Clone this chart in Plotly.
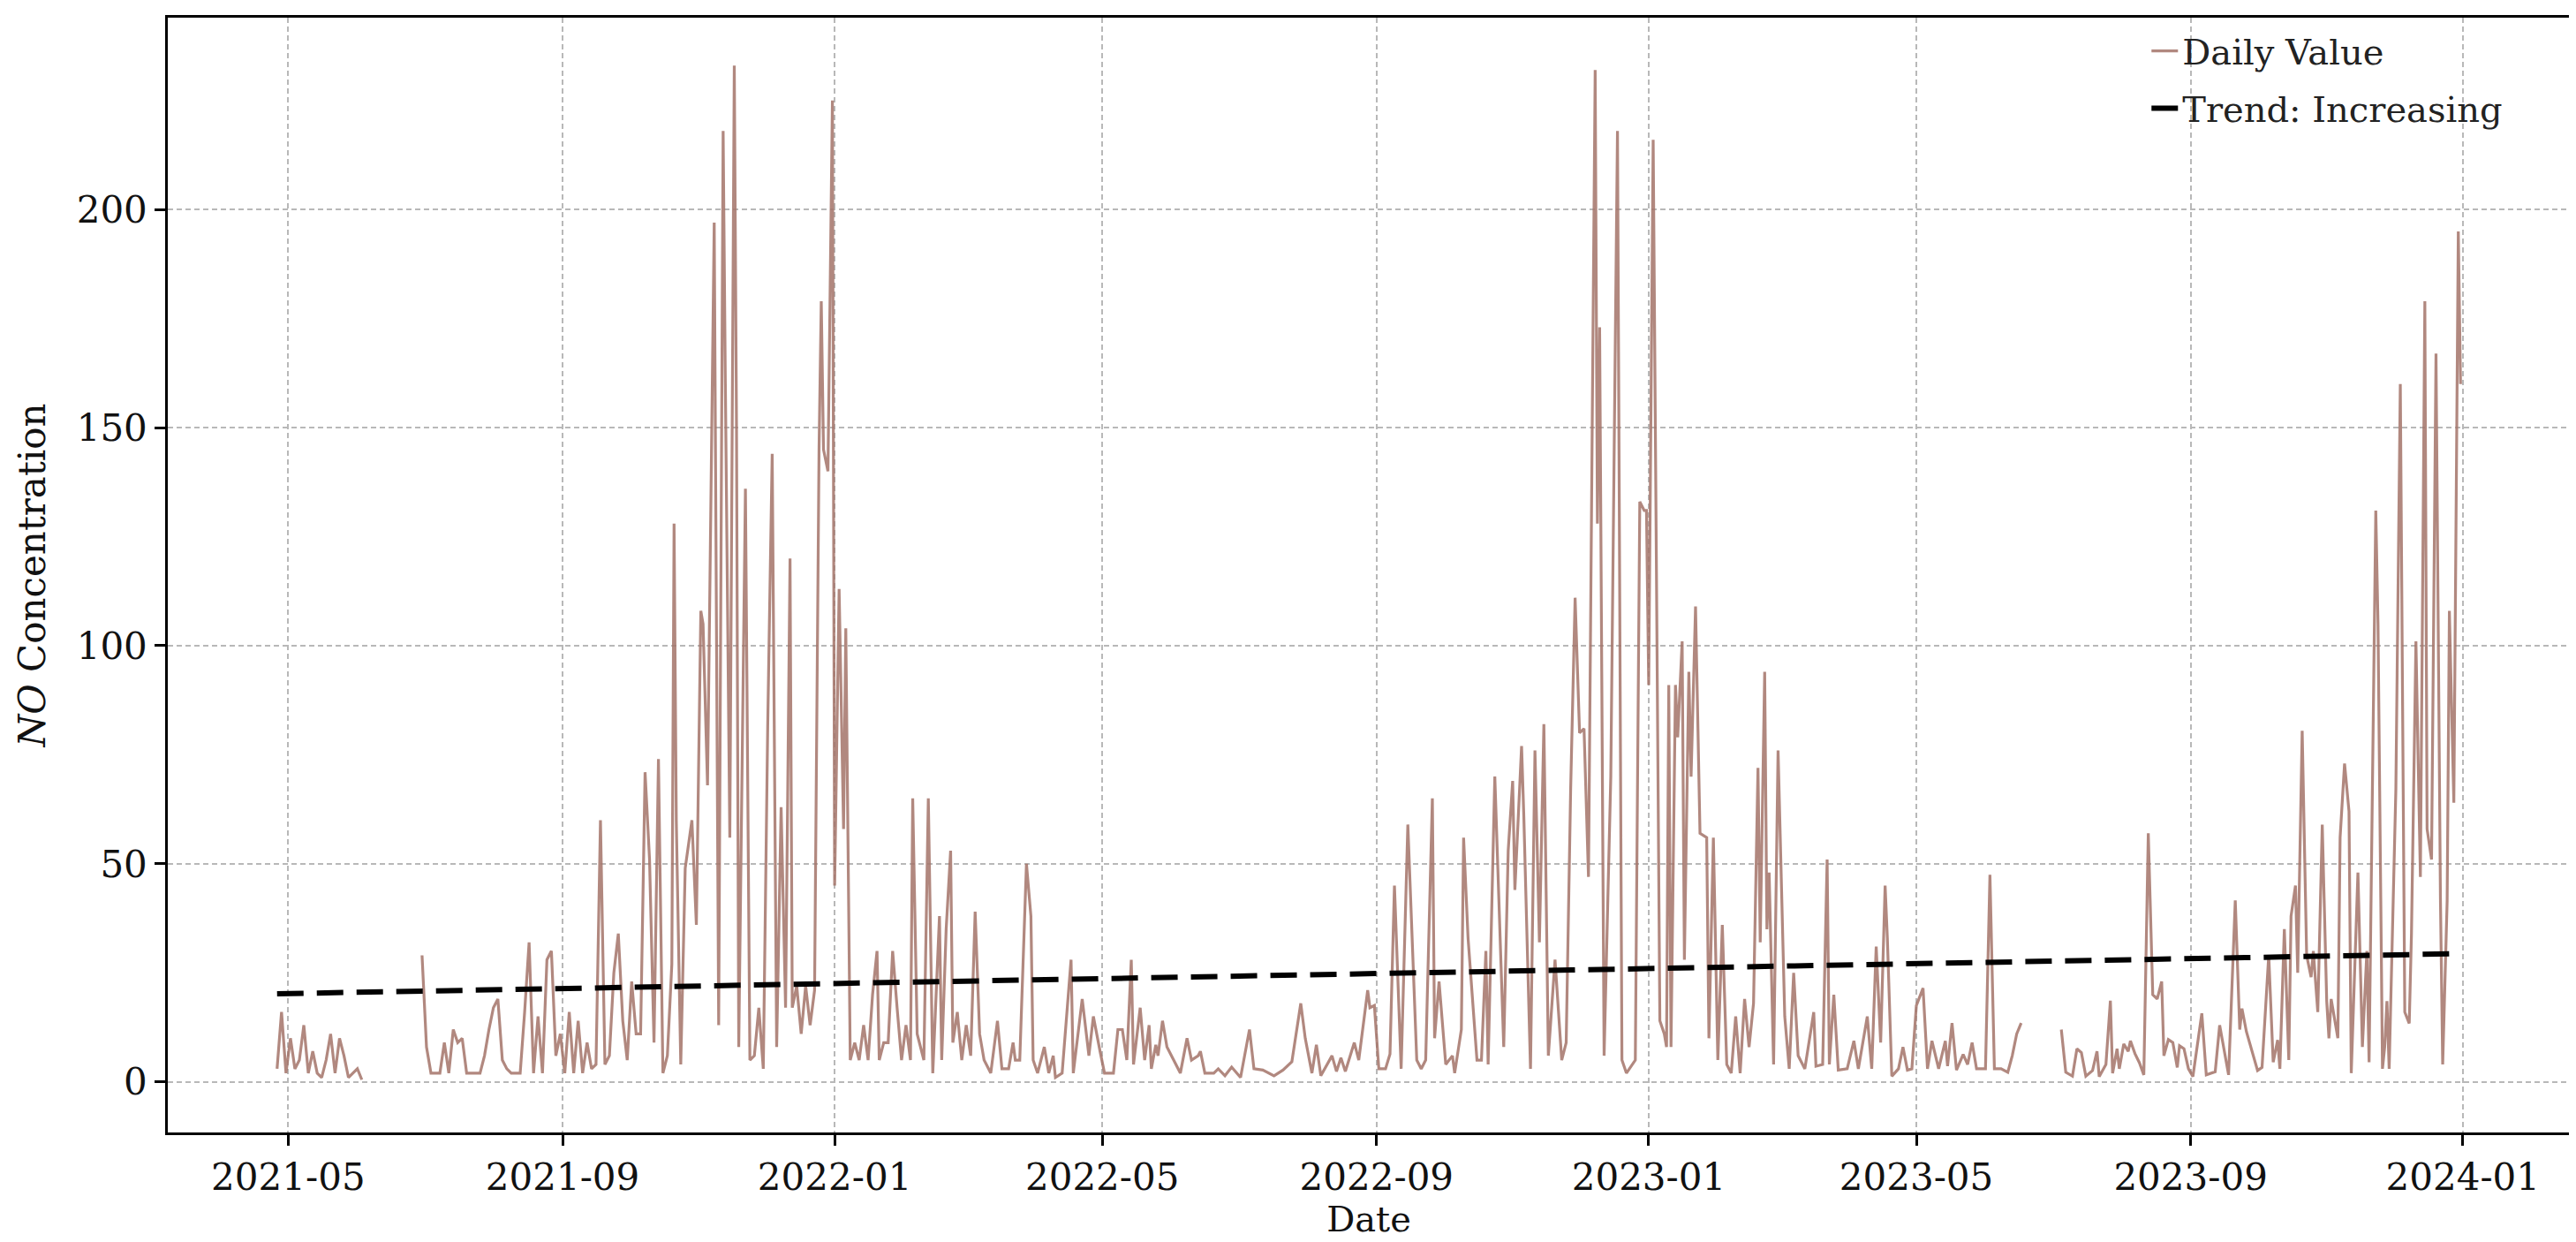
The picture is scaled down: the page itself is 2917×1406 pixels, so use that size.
import pandas as pd
import plotly.graph_objects as go

# (days after 2021-05-01, NO value); None marks a gap in the record
start = pd.Timestamp("2021-05-01")

readings = [
    (-5, 3), (-3, 16), (-1, 2), (1, 10), (3, 3), (5, 5), (7, 13), (9, 2), (11, 7), (13, 2),
    (15, 1), (17, 5), (19, 11), (21, 2), (23, 10), (25, 6), (27, 1), (29, 2), (31, 3), (33, 0.5),
    (46, None),
    (60, 29), (62, 8), (64, 2), (66, 2), (68, 2), (70, 9), (72, 2), (74, 12), (76, 9), (78, 10),
    (80, 2), (82, 2), (84, 2), (86, 2), (88, 6), (90, 12), (92, 17), (94, 19), (96, 5), (98, 3),
    (100, 2), (102, 2), (104, 2), (106, 16), (108, 32), (110, 2), (112, 15), (114, 2), (116, 28),
    (118, 30), (120, 6), (122, 11), (124, 2), (126, 16), (128, 2), (130, 14), (132, 2), (134, 9),
    (136, 3), (138, 4), (140, 60), (142, 4), (144, 6), (146, 25), (148, 34), (150, 14), (152, 5),
    (154, 23), (156, 11), (158, 11), (160, 71), (162, 51), (164, 9), (166, 74), (168, 2), (170, 6),
    (172, 27), (173, 128), (174, 60), (176, 4), (178, 49), (181, 60), (183, 36), (185, 108),
    (186, 105), (188, 68), (191, 197), (193, 13), (195, 218), (196, 160), (198, 56), (200, 233),
    (201, 150), (202, 8), (205, 136), (207, 5), (209, 6), (211, 17), (213, 3), (215, 82), (217, 144),
    (219, 8), (221, 63), (223, 17), (225, 120), (226, 17), (228, 22), (230, 11), (232, 22), (234, 13),
    (236, 21), (238, 145), (239, 179), (240, 145), (242, 140), (244, 225), (245, 45), (247, 113),
    (249, 58), (250, 104), (252, 5), (254, 9), (256, 5), (258, 13), (260, 5), (262, 20), (264, 30),
    (265, 5), (267, 9), (269, 9), (271, 30), (273, 17), (275, 5), (277, 13), (279, 5), (280, 65),
    (282, 11), (285, 5), (287, 65), (289, 2), (292, 38), (293, 5), (295, 35), (297, 53), (298, 9),
    (300, 16), (302, 5), (304, 13), (306, 6), (308, 39), (310, 11), (312, 5), (315, 2), (318, 14),
    (320, 3), (323, 3), (325, 9), (326, 5), (328, 5), (331, 50), (333, 38), (334, 5), (336, 2),
    (339, 8), (341, 2), (343, 6), (344, 1), (347, 2), (351, 28), (352, 2), (354, 10), (356, 19),
    (359, 6), (361, 15), (364, 7), (366, 2), (370, 2), (372, 12), (374, 12), (376, 5), (378, 28),
    (379, 4), (382, 17), (384, 5), (386, 13), (387, 3), (389, 8.5), (390, 6), (392, 14), (394, 8),
    (397, 5), (400, 2), (403, 10), (405, 5), (408, 6), (409, 7), (411, 2), (415, 2), (417, 3),
    (420, 1.4), (423, 3.4), (427, 1), (431, 12), (433, 3), (437, 2.7), (442, 1.4), (446, 2.7),
    (450, 4.6), (454, 18), (456, 10), (459, 2), (461, 8.5), (463, 1.4), (468, 6), (470, 2.4),
    (472, 5.5), (474, 2.4), (478, 9), (480, 5), (484, 21), (485, 17), (487, 17.5), (489, 3),
    (492, 3), (494, 6.4), (496, 45), (499, 3), (502, 59), (506, 5), (508, 3), (510, 5), (513, 65),
    (514, 10), (516, 23), (519, 4), (522, 6), (523, 2), (526, 12), (527, 56), (529, 33), (533, 5),
    (535, 5), (537, 30), (538, 4), (541, 70), (545, 8), (547, 53), (549, 69), (550, 44), (553, 77),
    (554, 61), (557, 3), (559, 76), (561, 32), (563, 82), (565, 6), (568, 28), (570, 14), (571, 5),
    (573, 9), (575, 67), (577, 111), (579, 80), (581, 81), (583, 47), (586, 232), (587, 128),
    (588, 173), (590, 6), (593, 70), (596, 218), (598, 5), (600, 2), (604, 5), (606, 133),
    (608, 131), (609, 131), (610, 91), (612, 216), (615, 14), (617, 11), (618, 8), (619, 91),
    (620, 8), (622, 91), (623, 79), (625, 101), (626, 28), (628, 94), (629, 70), (631, 109),
    (633, 57), (636, 56), (637, 10), (639, 56), (641, 5), (643, 36), (645, 4), (647, 2), (649, 15),
    (651, 2), (653, 19), (655, 8), (657, 18), (659, 72), (660, 32), (662, 94), (663, 35), (664, 48),
    (666, 4), (668, 76), (671, 15), (673, 3), (675, 25), (677, 6), (680, 3), (684, 16), (685, 3.6),
    (688, 4), (690, 51), (691, 4), (693, 20), (695, 2.7), (699, 3), (702, 9.4), (704, 3), (708, 15),
    (710, 3), (712, 31), (714, 9), (716, 45), (717, 33), (719, 1.3), (722, 3), (724, 8), (726, 2.7),
    (728, 3), (730, 17.5), (733, 21.5), (735, 3), (737, 9.4), (740, 3), (743, 9.4), (744, 3.6),
    (746, 13.5), (748, 2.7), (751, 6.3), (753, 4), (755, 9), (757, 3), (761, 3), (763, 47.5),
    (765, 3), (768, 3), (771, 2.2), (773, 6), (775, 11), (777, 13.5),
    (786, None),
    (795, 12), (797, 2.2), (800, 1.3), (802, 7.6), (804, 6.7), (806, 1.3), (809, 2.6), (811, 7),
    (812, 1.2), (815, 4), (817, 18.6), (818, 2), (820, 7.6), (821, 3), (823, 8.7), (825, 7),
    (826, 9.4), (828, 6.5), (830, 4.4), (832, 1.6), (834, 57), (836, 20), (838, 19), (840, 23),
    (841, 6), (843, 9.7), (845, 9), (847, 3.3), (848, 8.3), (850, 7.6), (852, 3), (854, 1.2),
    (858, 15.7), (860, 1.6), (864, 2.3), (866, 13), (870, 1.6), (873, 41.6), (875, 12), (876, 16.8),
    (878, 11.5), (881, 6), (883, 2.6), (885, 3.3), (888, 29), (890, 4.5), (892, 9.6), (893, 3),
    (895, 35), (897, 5), (898, 38), (900, 45), (901, 25), (903, 80.5), (905, 29), (907, 24),
    (908, 30), (910, 16), (912, 59), (914, 18.5), (915, 10), (916, 19), (919, 10), (920, 56),
    (922, 73), (924, 62), (925, 2), (928, 48), (930, 8), (932, 30), (933, 4.5), (936, 131),
    (937, 105), (939, 3), (940, 8), (941, 18.5), (942, 3), (945, 67), (947, 160), (949, 16),
    (951, 13.4), (952, 34), (954, 101), (956, 47), (958, 179), (959, 58), (961, 51), (963, 167),
    (965, 41.5), (966, 4), (968, 41.5), (969, 108), (971, 64), (973, 195), (974, 160),
]

trend_days = [-5, 974]
trend_values = [20.2, 29.4]

x_tick_dates = ["2021-05-01", "2021-09-01", "2022-01-01", "2022-05-01", "2022-09-01",
                "2023-01-01", "2023-05-01", "2023-09-01", "2024-01-01"]
y_tick_values = [0, 50, 100, 150, 200]

days = [d for d, _ in readings]
values = [v for _, v in readings]
dates = start + pd.to_timedelta(days, unit="D")
trend_dates = start + pd.to_timedelta(trend_days, unit="D")

FONT = "DejaVu Serif"

fig = go.Figure()
fig.add_trace(go.Scatter(
    x=dates, y=values, mode="lines", name="Daily Value", legendgroup="daily",
    line=dict(color="rgba(163,115,105,0.85)", width=3.2),
    connectgaps=False,
))
fig.add_trace(go.Scatter(
    x=trend_dates, y=trend_values, mode="lines", name="Trend: Increasing", legendgroup="trend",
    line=dict(color="black", width=6, dash="30px,15px"),
))

axis_common = dict(
    showline=True, linecolor="black", linewidth=2.5, mirror=True,
    ticks="outside", ticklen=12, tickwidth=2.5, tickcolor="black",
    showgrid=True, gridcolor="#b8b8b8", gridwidth=1.5, griddash="6px,4px",
    zeroline=False, tickfont=dict(family=FONT, size=42, color="#111"),
)

fig.update_xaxes(
    **axis_common,
    range=[start + pd.Timedelta(days=-54), start + pd.Timedelta(days=1023)],
    tickvals=pd.to_datetime(x_tick_dates), tickformat="%Y-%m",
    title=dict(text="Date", font=dict(family=FONT, size=40, color="#111"), standoff=0),
)
fig.update_yaxes(
    **axis_common,
    range=[-11.6, 244], tickvals=y_tick_values,
    title=dict(text="<i>NO</i> Concentration", font=dict(family=FONT, size=42, color="#111"),
               standoff=22),
)

fig.update_layout(
    width=2917, height=1406,
    margin=dict(l=182, r=15, t=9, b=132),
    plot_bgcolor="white", paper_bgcolor="white",
    font=dict(family=FONT, size=42, color="#111"),
    showlegend=True,
    legend=dict(x=0.974, y=0.996, xanchor="right", yanchor="top",
                bgcolor="rgba(0,0,0,0)", font=dict(family=FONT, size=40, color="#222"),
                tracegroupgap=10),
)

fig.write_html("out.html")
